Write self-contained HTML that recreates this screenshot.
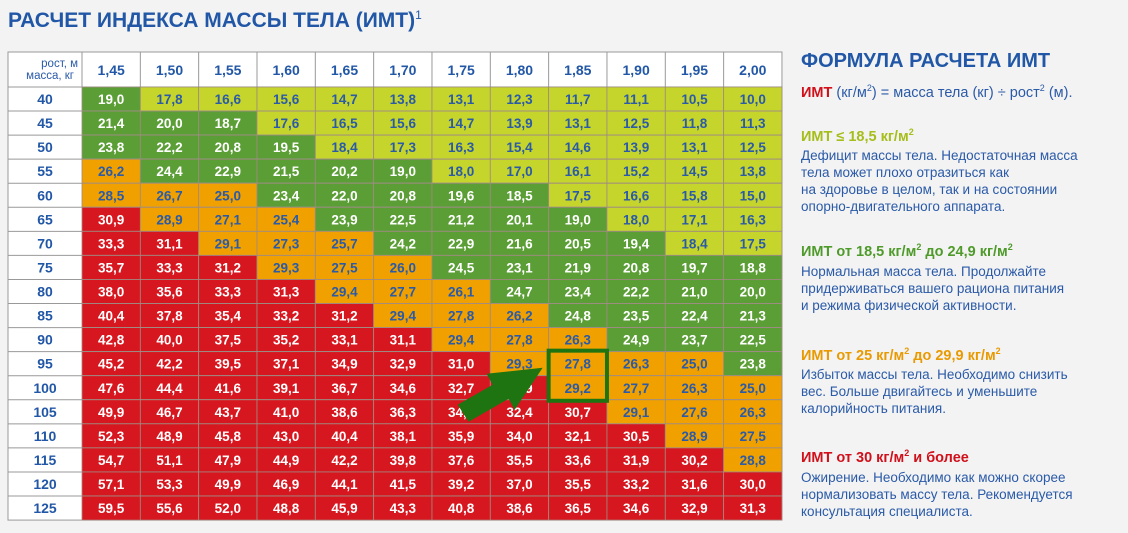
<!DOCTYPE html>
<html><head><meta charset="utf-8">
<style>
body{margin:0;width:1128px;height:533px;background:#f3f3f3;font-family:"Liberation Sans","DejaVu Sans",sans-serif;position:relative;overflow:hidden}
.t{position:absolute;white-space:nowrap}
#title{left:8px;top:8px;font-size:21px;font-weight:bold;color:#2157a6}
#title sup{font-size:12px;font-weight:normal}
#tbl{position:absolute;left:0;top:0}
.p{color:#2a5aa8;font-size:13.5px;line-height:17px}
.h{font-size:14.5px;font-weight:bold}
</style></head><body>
<div class="t" id="title">РАСЧЕТ ИНДЕКСА МАССЫ ТЕЛА (ИМТ)<sup>1</sup></div>
<svg id="tbl" width="790" height="533"></svg>

<div class="t" style="left:801px;top:50px;font-size:20px;font-weight:bold;color:#2157a6">ФОРМУЛА РАСЧЕТА ИМТ</div>
<div class="t" style="left:801px;top:83px;font-size:14.5px;color:#2a5aa8"><b style="color:#d0101a">ИМТ</b> (кг/м<sup style="font-size:9px">2</sup>) = масса тела (кг) ÷ рост<sup style="font-size:9px">2</sup> (м).</div>

<div class="t h" style="left:801px;top:127px;color:#a6bd1a">ИМТ ≤ 18,5 кг/м<sup style="font-size:9px">2</sup></div>
<div class="t p" style="left:801px;top:147px">Дефицит массы тела. Недостаточная масса<br>тела может плохо отразиться как<br>на здоровье в целом, так и на состоянии<br>опорно-двигательного аппарата.</div>

<div class="t h" style="left:801px;top:242px;color:#4e9a2a">ИМТ от 18,5 кг/м<sup style="font-size:9px">2</sup> до 24,9 кг/м<sup style="font-size:9px">2</sup></div>
<div class="t p" style="left:801px;top:263px">Нормальная масса тела. Продолжайте<br>придерживаться вашего рациона питания<br>и режима физической активности.</div>

<div class="t h" style="left:801px;top:346px;color:#e89a00">ИМТ от 25 кг/м<sup style="font-size:9px">2</sup> до 29,9 кг/м<sup style="font-size:9px">2</sup></div>
<div class="t p" style="left:801px;top:366px">Избыток массы тела. Необходимо снизить<br>вес. Больше двигайтесь и уменьшите<br>калорийность питания.</div>

<div class="t h" style="left:801px;top:448px;color:#d0101a">ИМТ от 30 кг/м<sup style="font-size:9px">2</sup> и более</div>
<div class="t p" style="left:801px;top:469px">Ожирение. Необходимо как можно скорее<br>нормализовать массу тела. Рекомендуется<br>консультация специалиста.</div>

<script>
const heights=["1,45","1,50","1,55","1,60","1,65","1,70","1,75","1,80","1,85","1,90","1,95","2,00"];
const weights=[40,45,50,55,60,65,70,75,80,85,90,95,100,105,110,115,120,125];
const r40=[19.0,17.8,16.6,15.6,14.7,13.8,13.1,12.3,11.7,11.1,10.5,10.0];
const r45=[21.4,20.0,18.7,17.6,16.5,15.6,14.7,13.9,13.1,12.5,11.8,11.3];
const r50=[23.8,22.2,20.8,19.5,18.4,17.3,16.3,15.4,14.6,13.9,13.1,12.5];
const r55=[26.2,24.4,22.9,21.5,20.2,19.0,18.0,17.0,16.1,15.2,14.5,13.8];
const r60=[28.5,26.7,25.0,23.4,22.0,20.8,19.6,18.5,17.5,16.6,15.8,15.0];
const r65=[30.9,28.9,27.1,25.4,23.9,22.5,21.2,20.1,19.0,18.0,17.1,16.3];
const r70=[33.3,31.1,29.1,27.3,25.7,24.2,22.9,21.6,20.5,19.4,18.4,17.5];
const r75=[35.7,33.3,31.2,29.3,27.5,26.0,24.5,23.1,21.9,20.8,19.7,18.8];
const r80=[38.0,35.6,33.3,31.3,29.4,27.7,26.1,24.7,23.4,22.2,21.0,20.0];
const r85=[40.4,37.8,35.4,33.2,31.2,29.4,27.8,26.2,24.8,23.5,22.4,21.3];
const r90=[42.8,40.0,37.5,35.2,33.1,31.1,29.4,27.8,26.3,24.9,23.7,22.5];
const r95=[45.2,42.2,39.5,37.1,34.9,32.9,31.0,29.3,27.8,26.3,25.0,23.8];
const r100=[47.6,44.4,41.6,39.1,36.7,34.6,32.7,30.9,29.2,27.7,26.3,25.0];
const r105=[49.9,46.7,43.7,41.0,38.6,36.3,34.3,32.4,30.7,29.1,27.6,26.3];
const r110=[52.3,48.9,45.8,43.0,40.4,38.1,35.9,34.0,32.1,30.5,28.9,27.5];
const r115=[54.7,51.1,47.9,44.9,42.2,39.8,37.6,35.5,33.6,31.9,30.2,28.8];
const r120=[57.1,53.3,49.9,46.9,44.1,41.5,39.2,37.0,35.5,33.2,31.6,30.0];
const r125=[59.5,55.6,52.0,48.8,45.9,43.3,40.8,38.6,36.5,34.6,32.9,31.3];
const rows=[r40,r45,r50,r55,r60,r65,r70,r75,r80,r85,r90,r95,r100,r105,r110,r115,r120,r125];
const highlightCol=8, highlightRows=[11,12];

const NS="http://www.w3.org/2000/svg";
const svg=document.getElementById('tbl');
const X0=8,C0=74,CW=58.33,Y0=52,HH=35,RH=24.06;
const colX=i=>X0+C0+i*CW;
const rowY=j=>Y0+HH+j*RH;
function mk(tag,a){const e=document.createElementNS(NS,tag);for(const k in a)e.setAttribute(k,a[k]);svg.appendChild(e);return e;}
function col(v){if(v<18.5)return["#c5d52c","#2a5aa8"];if(v<25)return["#5b9e36","#fff"];if(v<30)return["#f0a100","#2a5aa8"];return["#d7171f","#fff"];}
const W=C0+CW*heights.length;
let bg=mk('rect',{x:X0,y:Y0,width:W,height:HH+RH*weights.length,fill:'#fff',stroke:'#999','stroke-width':1});

let c1=mk('text',{x:X0+70,y:Y0+15,'text-anchor':'end','font-size':11.5,fill:'#2a5aa8'});c1.textContent='рост, м';

let c2=mk('text',{x:X0+66,y:Y0+27,'text-anchor':'end','font-size':11.5,fill:'#2a5aa8'});c2.textContent='масса, кг';

heights.forEach((h,i)=>{
  const t=mk('text',{x:colX(i)+CW/2,y:Y0+23,'text-anchor':'middle','font-size':14,'font-weight':'bold',fill:'#2157a6'});t.textContent=h;
  
  mk('line',{x1:colX(i),x2:colX(i),y1:Y0,y2:Y0+HH,stroke:'#999'});
});
weights.forEach((w,j)=>{
  const y=rowY(j);
  mk('line',{x1:X0,x2:X0+W,y1:y,y2:y,stroke:'#999'});
  const t=mk('text',{x:X0+C0/2,y:y+RH/2+5,'text-anchor':'middle','font-size':14,'font-weight':'bold',fill:'#2157a6'});t.textContent=w;
  
  rows[j].forEach((v,i)=>{
    const [f,tc]=col(v);
    const r=mk('rect',{x:colX(i),y:y,width:CW,height:RH,fill:f,stroke:'#a08a80','stroke-width':0.8});
    
    const tt=mk('text',{x:colX(i)+CW/2,y:y+RH/2+5,'text-anchor':'middle','font-size':13.5,'font-weight':'bold',fill:tc});
    tt.textContent=v.toFixed(1).replace('.',',');
    
  });
});
// highlight
const hy=rowY(highlightRows[0]),hy2=rowY(highlightRows[highlightRows.length-1])+RH;
const hl=mk('rect',{x:colX(highlightCol),y:hy-1,width:CW,height:hy2-hy+2,fill:'none',stroke:'#1e7410','stroke-width':4});

// arrow
const ax=colX(highlightCol)-6, ay=hy2-20;
const ar=mk('polygon',{points:`${ax-85},${ay+25} ${ax-50},${ay+5} ${ax-56},${ay-6} ${ax},${ay-12} ${ax-28},${ay+30} ${ax-34},${ay+19} ${ax-74},${ay+42}`,fill:'#1e7410'});

</script>
</body></html>
